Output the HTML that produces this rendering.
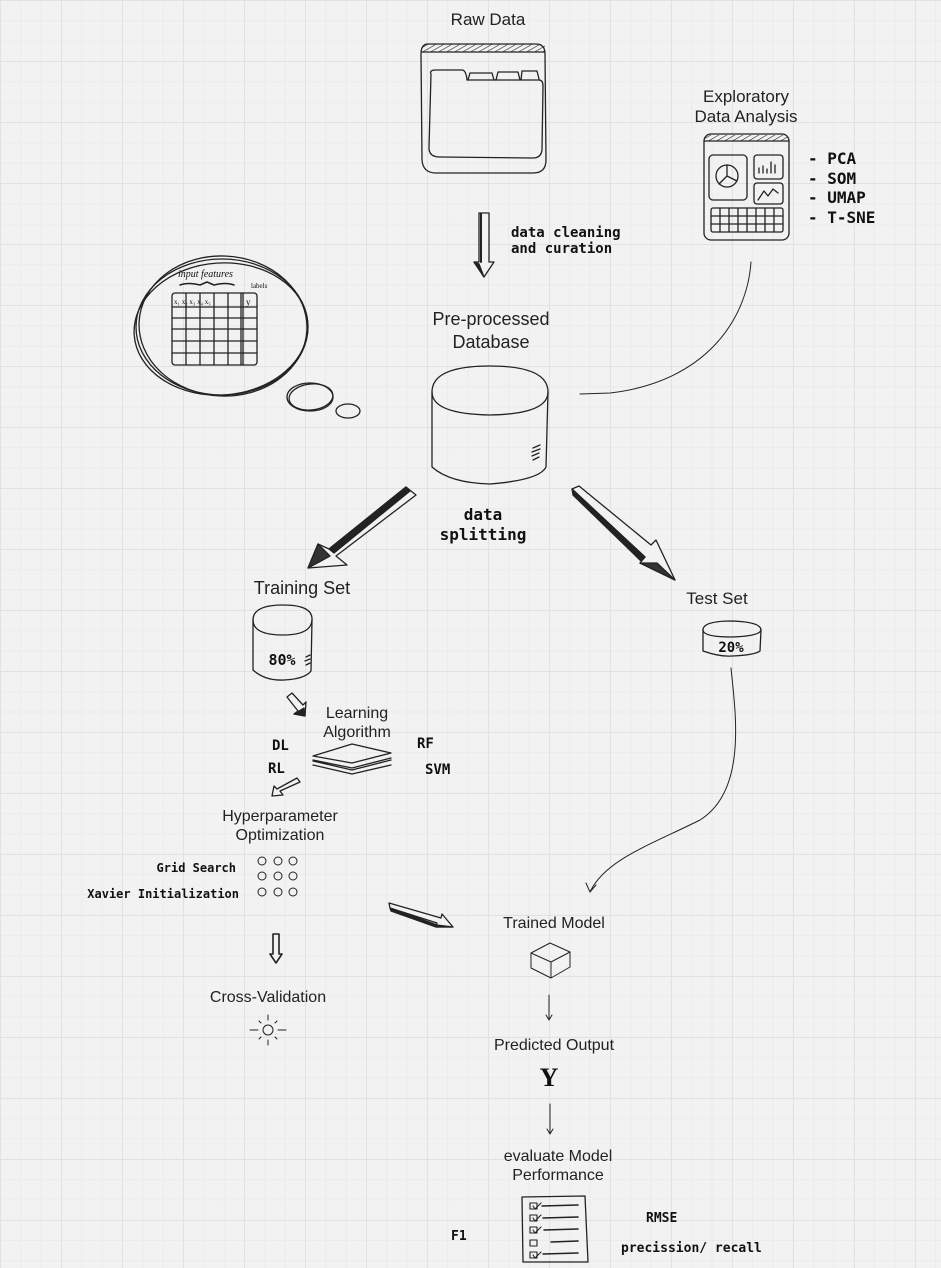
<!DOCTYPE html>
<html><head><meta charset="utf-8"><style>
html,body{margin:0;padding:0;}
body{width:941px;height:1268px;overflow:hidden;background-color:#f2f2f2;
background-image:
linear-gradient(to right, #e2e2e2 1px, transparent 1px),
linear-gradient(to bottom, #e2e2e2 1px, transparent 1px),
linear-gradient(to right, #ebebeb 1px, transparent 1px),
linear-gradient(to bottom, #ebebeb 1px, transparent 1px);
background-size:61px 61px,61px 61px,20.33px 20.33px,20.33px 20.33px;
background-position:0 0,0 0,0 0,0 0;}
svg{position:absolute;left:0;top:0;}
.t{font-family:"Liberation Sans",sans-serif;fill:#222;font-size:17px;}
.h{font-family:"DejaVu Sans Mono","Liberation Mono",monospace;font-weight:bold;fill:#111;font-size:14px;}
</style></head><body>
<svg width="941" height="1268" viewBox="0 0 941 1268" fill="none" stroke="#222" stroke-width="1.3" stroke-linecap="round" stroke-linejoin="round">
<defs>
<pattern id="hat" width="4" height="4" patternUnits="userSpaceOnUse" patternTransform="rotate(60)"><line x1="0" y1="0" x2="0" y2="4" stroke="#222" stroke-width="1.2"/></pattern>
</defs>

<!-- Raw Data -->
<text class="t" x="488" y="25" text-anchor="middle" stroke="none">Raw Data</text>
<path d="M428,44 Q421,44 421,54 L422,160 Q423,173 436,173 L533,173 Q546,173 546,160 L545,54 Q545,44 536,44 Z"/>
<rect x="422" y="44" width="123" height="8" fill="url(#hat)" stroke="none"/>
<line x1="422" y1="52" x2="545" y2="52"/>
<path d="M431,74 Q429,70 436,70 L462,70 Q466,70 467,80 L539,80 Q543,80 543,86 L542,150 Q541,158 533,158 L440,157 Q429,157 429,148 Z"/>
<path d="M468,80 L470,73 L492,73 L494,80 M496,80 L498,72 L518,72 L520,80 M521,80 L522,71 L537,71 L539,79"/>

<!-- down arrow -->
<path d="M479,213 L489,213 L489,262 L494,262 L484,277 L474,262 L479,262 Z" fill="#f2f2f2"/>
<path d="M474,262 L484,277 L479,264 Z" fill="#222"/>
<line x1="481" y1="214" x2="481" y2="262" stroke-width="2"/>
<text class="h" x="511" y="237" stroke="none">data cleaning</text>
<text class="h" x="511" y="253" stroke="none">and curation</text>

<!-- EDA -->
<text class="t" x="746" y="102" text-anchor="middle" stroke="none">Exploratory</text>
<text class="t" x="746" y="122" text-anchor="middle" stroke="none">Data Analysis</text>
<rect x="704" y="134" width="85" height="106" rx="7"/>
<rect x="705" y="135" width="83" height="6" fill="url(#hat)" stroke="none"/>
<line x1="704" y1="141" x2="789" y2="141"/>
<rect x="709" y="155" width="38" height="45" rx="4"/>
<circle cx="727" cy="176" r="11"/>
<path d="M727,165 L727,176 L737,181 M727,176 L719,184"/>
<rect x="754" y="155" width="29" height="24" rx="3"/>
<path d="M759,173 L759,168 M763,173 L763,166 M767,173 L767,169 M771,173 L771,162 M775,173 L775,165"/>
<rect x="754" y="183" width="29" height="21" rx="3"/>
<path d="M758,200 L764,191 L768,196 L773,189 L778,193"/>
<rect x="711" y="208" width="72" height="24" rx="2"/>
<path d="M711,216 L783,216 M711,224 L783,224 M720,208 L720,232 M729,208 L729,232 M738,208 L738,232 M747,208 L747,232 M756,208 L756,232 M765,208 L765,232 M774,208 L774,232"/>
<text class="h" x="808" y="164" stroke="none" style="font-size:16px">- PCA</text>
<text class="h" x="808" y="184" stroke="none" style="font-size:16px">- SOM</text>
<text class="h" x="808" y="203" stroke="none" style="font-size:16px">- UMAP</text>
<text class="h" x="808" y="223" stroke="none" style="font-size:16px">- T-SNE</text>
<path d="M751,262 C747,320 705,382 610,393 L580,394" stroke-width="1"/>

<!-- thought bubble -->
<ellipse cx="222" cy="327" rx="86" ry="68"/>
<ellipse cx="223" cy="326" rx="84" ry="70" transform="rotate(3 223 326)"/>
<ellipse cx="221" cy="329" rx="87" ry="66" transform="rotate(-4 221 329)"/>
<ellipse cx="310" cy="397" rx="23" ry="14"/>
<ellipse cx="311" cy="397" rx="22" ry="13" transform="rotate(-6 311 397)"/>
<ellipse cx="348" cy="411" rx="12" ry="7"/>
<text x="178" y="277" stroke="none" style="font-family:'Liberation Serif',serif;font-size:10px;font-style:italic;fill:#111">input features</text>
<path d="M180,285 Q188,282 200,285 L207,282 L214,285 Q226,282 234,285" stroke-width="1.5"/>
<text x="251" y="288" stroke="none" style="font-family:'Liberation Serif',serif;font-size:7px;fill:#111">labels</text>
<rect x="172" y="293" width="85" height="72" rx="3"/>
<path d="M172,307 L257,307 M172,318 L257,318 M172,329 L257,329 M172,341 L257,341 M172,353 L257,353 M186,293 L186,365 M200,293 L200,365 M214,293 L214,365 M228,293 L228,365 M241,293 L241,365 M243,293 L243,365"/>
<text x="174" y="304" stroke="none" style="font-family:'Liberation Serif',serif;font-size:7px;fill:#111">x₁  x₂  x₃  x₄  x₅</text>
<text x="246" y="305" stroke="none" style="font-family:'Liberation Serif',serif;font-size:9px;fill:#111">y</text>

<!-- Pre-processed DB -->
<text class="t" x="491" y="325" text-anchor="middle" stroke="none" style="font-size:18px">Pre-processed</text>
<text class="t" x="491" y="348" text-anchor="middle" stroke="none" style="font-size:18px">Database</text>
<path d="M432,392 Q432,366 490,366 Q548,366 548,392 Q548,414 490,415 Q432,414 432,392 Z"/>
<path d="M432,392 L432,467 Q450,483 490,484 Q540,480 546,467 L548,392"/>
<path d="M533,448 L540,445 M532,452 L540,449 M532,456 L539,453 M533,460 L539,457"/>
<text class="h" x="483" y="520" text-anchor="middle" stroke="none" style="font-size:16px">data</text>
<text class="h" x="483" y="540" text-anchor="middle" stroke="none" style="font-size:16px">splitting</text>

<!-- big left arrow -->
<path d="M406,487 L416,495 L336,556 L347,565 L308,568 L318,544 L329,549 Z" fill="#f2f2f2"/>
<path d="M406,487 L329,549 L334,553 L410,491 Z" fill="#222"/>
<path d="M308,568 L318,544 L330,556 Z" fill="#333"/>
<!-- big right arrow -->
<path d="M572,489 L579,486 L651,545 L656,540 L675,580 L640,563 L645,557 Z" fill="#f2f2f2"/>
<path d="M572,489 L645,557 L641,561 L573,495 Z" fill="#222"/>
<path d="M640,563 L675,580 L657,563 Z" fill="#333"/>

<!-- Training set -->
<text class="t" x="302" y="594" text-anchor="middle" stroke="none" style="font-size:18px">Training Set</text>
<path d="M253,620 Q253,605 283,605 Q313,605 312,620 Q311,635 283,635 Q253,635 253,620 Z"/>
<path d="M253,620 L253,670 Q265,681 284,680 Q305,679 311,671 L312,620"/>
<text class="h" x="282" y="665" text-anchor="middle" stroke="none" style="font-size:15px">80%</text>
<path d="M306,657 L310,655 M305,661 L310,659 M306,665 L310,663"/>
<path d="M287,697 L292,693 L303,705 L306,702 L305,716 L294,714 L298,711 Z" fill="#f2f2f2"/>
<path d="M294,714 L305,716 L304,708 Z" fill="#222"/>

<text class="t" x="357" y="718" text-anchor="middle" stroke="none" style="font-size:16px">Learning</text>
<text class="t" x="357" y="737" text-anchor="middle" stroke="none" style="font-size:16px">Algorithm</text>
<text class="h" x="272" y="750" stroke="none">DL</text>
<text class="h" x="268" y="773" stroke="none">RL</text>
<text class="h" x="417" y="748" stroke="none">RF</text>
<text class="h" x="425" y="774" stroke="none">SVM</text>
<path d="M313,756 L352,744 L391,753 L352,763 Z"/>
<path d="M313,761 L352,770 L391,760 M313,760 L352,768 L391,758"/>
<path d="M313,765 L352,774 L391,765"/>
<path d="M297,778 L300,782 L280,791 L283,795 L272,796 L274,786 L277,789 Z" fill="#f2f2f2"/>

<text class="t" x="280" y="821" text-anchor="middle" stroke="none" style="font-size:16px">Hyperparameter</text>
<text class="t" x="280" y="840" text-anchor="middle" stroke="none" style="font-size:16px">Optimization</text>
<text class="h" x="236" y="872" text-anchor="end" stroke="none" style="font-size:12px">Grid Search</text>
<text class="h" x="239" y="898" text-anchor="end" stroke="none" style="font-size:12px">Xavier Initialization</text>
<g stroke-width="1">
<circle cx="262" cy="861" r="4"/><circle cx="278" cy="861" r="4"/><circle cx="293" cy="861" r="4"/>
<circle cx="262" cy="876" r="4"/><circle cx="278" cy="876" r="4"/><circle cx="293" cy="876" r="4"/>
<circle cx="262" cy="892" r="4"/><circle cx="278" cy="892" r="4"/><circle cx="293" cy="892" r="4"/>
</g>
<path d="M389,903 L390,908 L437,923 L436,927 L453,927 L442,914 L441,918 Z" fill="#f2f2f2"/>
<path d="M390,908 L437,925 L453,927 L436,927 L391,911 Z" fill="#222"/>
<path d="M273,934 L279,934 L279,954 L282,954 L276,963 L270,954 L273,954 Z" fill="#f2f2f2" stroke-width="1.6"/>
<text class="t" x="268" y="1002" text-anchor="middle" stroke="none" style="font-size:16px">Cross-Validation</text>
<circle cx="268" cy="1030" r="5" stroke-width="1"/>
<path d="M268,1020 L268,1015 M268,1040 L268,1045 M258,1030 L250,1030 M278,1030 L286,1030 M261,1023 L259,1021 M275,1037 L277,1039 M275,1023 L277,1021 M261,1037 L259,1039" stroke-width="1"/>

<!-- Test set -->
<text class="t" x="717" y="604" text-anchor="middle" stroke="none" style="font-size:17px">Test Set</text>
<path d="M703,630 Q703,621 732,621 Q761,622 761,630 Q760,636 732,637 Q703,637 703,630 Z"/>
<path d="M703,630 L703,651 Q720,657 732,656 Q755,655 760,651 L761,630"/>
<text class="h" x="731" y="652" text-anchor="middle" stroke="none" style="font-size:14px">20%</text>
<path d="M731,668 C735,710 748,790 700,820 C650,845 605,860 590,892" stroke-width="1"/>
<path d="M586,883 L590,892 L596,885" stroke-width="1"/>

<!-- Trained model -->
<text class="t" x="554" y="928" text-anchor="middle" stroke="none" style="font-size:16px">Trained Model</text>
<path d="M531,953 L550,943 L570,952 L570,967 L551,978 L531,968 Z M531,953 L551,962 L570,952 M551,962 L551,978" stroke-width="1"/>
<path d="M549,995 L549,1020 M546,1015 L549,1020 L552,1015" stroke-width="1"/>
<text class="t" x="554" y="1050" text-anchor="middle" stroke="none" style="font-size:16px">Predicted Output</text>
<text x="549" y="1086" text-anchor="middle" stroke="none" style="font-family:'Liberation Serif',serif;font-weight:bold;font-size:26px;fill:#111">Y</text>
<path d="M550,1104 L550,1134 M547,1129 L550,1134 L553,1129" stroke-width="1"/>
<text class="t" x="558" y="1161" text-anchor="middle" stroke="none" style="font-size:16px">evaluate Model</text>
<text class="t" x="558" y="1180" text-anchor="middle" stroke="none" style="font-size:16px">Performance</text>
<path d="M522,1197 L585,1196 L588,1262 L523,1262 Z"/>
<g stroke-width="1.1">
<rect x="530" y="1203" width="7" height="6"/><rect x="530" y="1215" width="7" height="6"/><rect x="530" y="1227" width="7" height="6"/><rect x="530" y="1240" width="7" height="6"/><rect x="530" y="1252" width="7" height="6"/>
<path d="M533,1206 L535,1209 L541,1203 M533,1218 L535,1221 L541,1215 M533,1230 L535,1233 L541,1227 M533,1255 L535,1258 L541,1252"/>
<path d="M542,1206 L578,1205 M543,1218 L578,1217 M544,1230 L578,1229 M551,1242 L578,1241 M543,1254 L578,1253" stroke-width="1.5"/>
</g>
<text class="h" x="451" y="1240" stroke="none" style="font-size:13px">F1</text>
<text class="h" x="646" y="1222" stroke="none" style="font-size:13px">RMSE</text>
<text class="h" x="621" y="1252" stroke="none" style="font-size:13px">precission/ recall</text>
</svg>
</body></html>
